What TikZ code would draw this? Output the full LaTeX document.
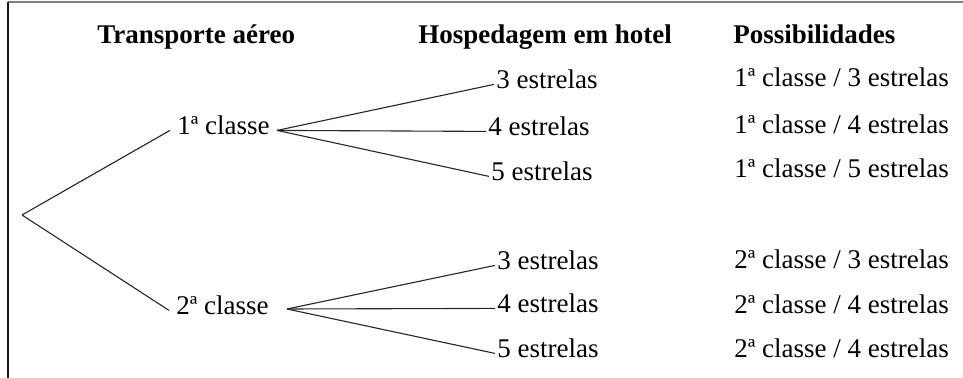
\documentclass[tikz,border=0pt]{standalone}
\usepackage{fontspec}
\setmainfont{Liberation Serif}
\usetikzlibrary{calc}

\begin{document}
\begin{tikzpicture}[x=0.5pt,y=-0.5pt,
  every node/.style={font=\fontsize{13.5}{16}\selectfont, inner sep=0pt},
  titulo/.style={anchor=base west, font=\fontsize{13.5}{16}\selectfont\bfseries},
  opcao/.style={anchor=base west, inner xsep=1pt},
  ramo/.style={draw=black!85, line width=0.55pt}]

\useasboundingbox (0,0) rectangle (963,378);
\draw [black!50,line width=0.8pt] (8,2) -- (963,2);
\draw [black!90,line width=0.8pt] (8,2) -- (8,378);

%Titles

\node[titulo] (transp) at (97,44) {Transporte aéreo};
\node[titulo] (hosp) at (418,44) {Hospedagem em hotel};
\node[titulo] (poss) at (733,44) {Possibilidades};

%Tree

\coordinate (raiz) at (22,215);
\node[opcao,inner xsep=3.5pt] (c1) at (170,135) {1ª classe};
\node[opcao,inner xsep=3.5pt] (c2) at (169,315) {2ª classe};
\coordinate (b2) at (287,309);

\node[opcao] (e13) at (494,89) {3 estrelas};
\node[opcao] (e14) at (486,136) {4 estrelas};
\node[opcao] (e15) at (489,181) {5 estrelas};
\node[opcao] (e23) at (495,270) {3 estrelas};
\node[opcao] (e24) at (495,313) {4 estrelas};
\node[opcao] (e25) at (495,358) {5 estrelas};

\draw[ramo] (raiz) -- (c1.mid west);
\draw[ramo] (raiz) -- (c2.mid west);
\draw[ramo] (c1.mid east) -- (e13.mid west);
\draw[ramo] (c1.mid east) -- (e14.mid west);
\draw[ramo] (c1.mid east) -- (e15.mid west);
\draw[ramo] (b2) -- (e23.mid west);
\draw[ramo] (b2) -- (e24.mid west);
\draw[ramo] (b2) -- (e25.mid west);

%Results

\node[opcao,inner xsep=0pt] (p13) at (734,87) {1ª classe / 3 estrelas};
\node[opcao,inner xsep=0pt] (p14) at (734,134) {1ª classe / 4 estrelas};
\node[opcao,inner xsep=0pt] (p15) at (734,178) {1ª classe / 5 estrelas};
\node[opcao,inner xsep=0pt] (p23) at (734,269) {2ª classe / 3 estrelas};
\node[opcao,inner xsep=0pt] (p24) at (734,314) {2ª classe / 4 estrelas};
\node[opcao,inner xsep=0pt] (p25) at (734,358) {2ª classe / 4 estrelas};

\end{tikzpicture}
\end{document}
